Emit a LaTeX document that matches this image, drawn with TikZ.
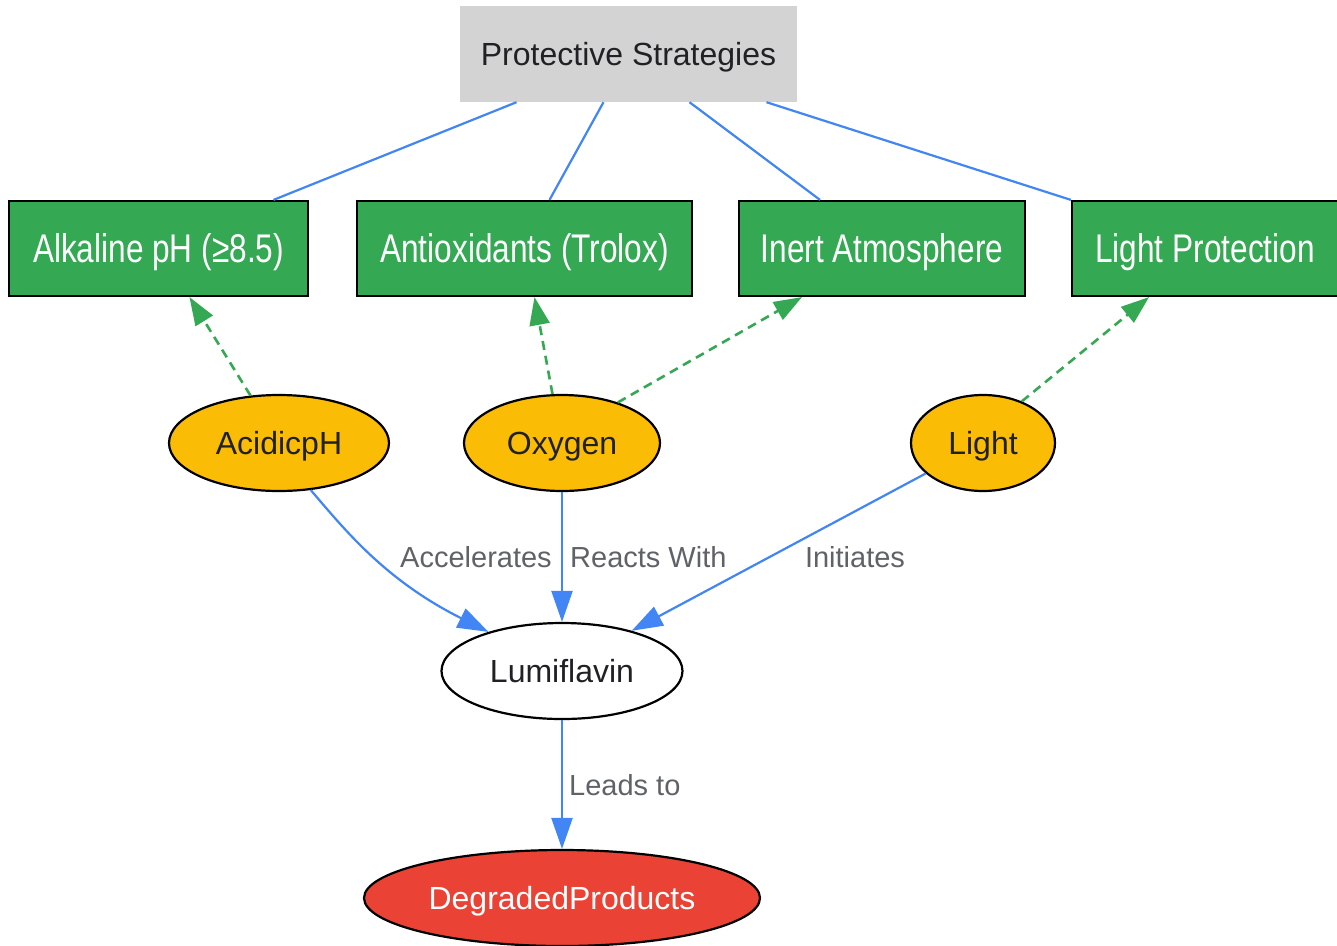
\documentclass[tikz,border=0pt]{standalone}
\usepackage{fontspec}
\setmainfont{Liberation Sans}
\usepackage{graphicx}
\usetikzlibrary{arrows.meta,shapes.geometric}
\definecolor{gbg}{HTML}{34A853}
\definecolor{ybg}{HTML}{FBBC05}
\definecolor{rbg}{HTML}{EA4335}
\definecolor{bline}{HTML}{4285F4}
\definecolor{graybox}{HTML}{D3D3D3}
\definecolor{dtext}{HTML}{202124}
\definecolor{ltext}{HTML}{5F6368}
\newcommand{\narrowtxt}[1]{\scalebox{0.79}[1]{#1}}
\tikzset{
  topbox/.style={rectangle, fill=graybox, draw=none, inner sep=0pt, text=dtext,
    minimum width=337pt, minimum height=96pt, font=\fontsize{32}{38}\selectfont,
    text height=22.9pt, text depth=0pt},
  gbox/.style={rectangle, fill=gbg, draw=black, line width=2.2pt, inner sep=0pt, text=white,
    minimum height=95pt, font=\fontsize{40}{48}\selectfont,
    text height=28.6pt, text depth=0pt},
  ell/.style={ellipse, draw=black, line width=2.2pt, inner sep=0pt, minimum height=96pt,
    font=\fontsize{32}{38}\selectfont, text height=22.9pt, text depth=0pt},
  yell/.style={ell, fill=ybg, text=dtext},
  blueline/.style={draw=bline, line width=2.2pt},
  bluearrow/.style={blueline, -{Triangle[length=31pt,width=21pt]}},
  greenarrow/.style={draw=gbg, line width=2.6pt, dash pattern=on 9pt off 6pt,
    -{Triangle[length=28pt,width=20pt]}},
  elabel/.style={text=ltext, font=\fontsize{29}{35}\selectfont, inner sep=0pt,
    text height=20.8pt, text depth=0pt}
}
\begin{document}
\begin{tikzpicture}[x=1pt,y=-1pt]
\useasboundingbox (0,0) rectangle (1337,945);
\fill[white] (0,0) rectangle (1337,945);

\node[topbox] (prot) at (628.5,54) {Protective Strategies};

\node[gbox, minimum width=299pt] (alk) at (158.5,248.5) {\narrowtxt{Alkaline pH (≥8.5)}};
\node[gbox, minimum width=335pt] (anti) at (524.5,248.5) {\narrowtxt{Antioxidants (Trolox)}};
\node[gbox, minimum width=286pt] (inert) at (882,248.5) {\narrowtxt{Inert Atmosphere}};
\node[gbox, minimum width=266pt] (lp) at (1205,248.5) {\narrowtxt{Light Protection}};

\node[yell, minimum width=220pt] (acid) at (279,443) {AcidicpH};
\node[yell, minimum width=196pt] (oxy) at (562,443) {Oxygen};
\node[yell, minimum width=144pt] (light) at (983,443) {Light};

\node[ell, fill=white, text=dtext, minimum width=241pt] (lumi) at (562,671) {Lumiflavin};
\node[ell, fill=rbg, text=white, minimum width=396pt] (degr) at (562,898) {DegradedProducts};

% protective strategies links
\draw[blueline] ([xshift=-112pt]prot.south) -- ([xshift=115pt]alk.north);
\draw[blueline] ([xshift=-25pt]prot.south) -- ([xshift=25pt]anti.north);
\draw[blueline] ([xshift=61pt]prot.south) -- ([xshift=-62pt]inert.north);
\draw[blueline] ([xshift=138pt]prot.south) -- (lp.north west);

% dashed green arrows
\draw[greenarrow] (acid.121) -- ([xshift=31pt]alk.south);
\draw[greenarrow] (oxy.101) -- ([xshift=10pt]anti.south);
\draw[greenarrow] (oxy.36) -- ([xshift=-80pt]inert.south);
\draw[greenarrow] (light.47) -- ([xshift=-56pt]lp.south);

% blue arrows to lumiflavin
\draw[bluearrow] (acid.-56) .. controls (345,530) and (385,580) .. (lumi.152);
\draw[bluearrow] (oxy.south) -- (lumi.north);
\draw[bluearrow] (light.208) -- (lumi.30);
\draw[bluearrow] (lumi.south) -- (degr.north);

% labels
\node[elabel] (lacc) at (476,557) {Accelerates};
\node[elabel, anchor=west] (lrea) at (570,557) {Reacts With};
\node[elabel] (lini) at (855,557) {Initiates};
\node[elabel, anchor=west] (llead) at (569,785) {Leads to};
\end{tikzpicture}
\end{document}
